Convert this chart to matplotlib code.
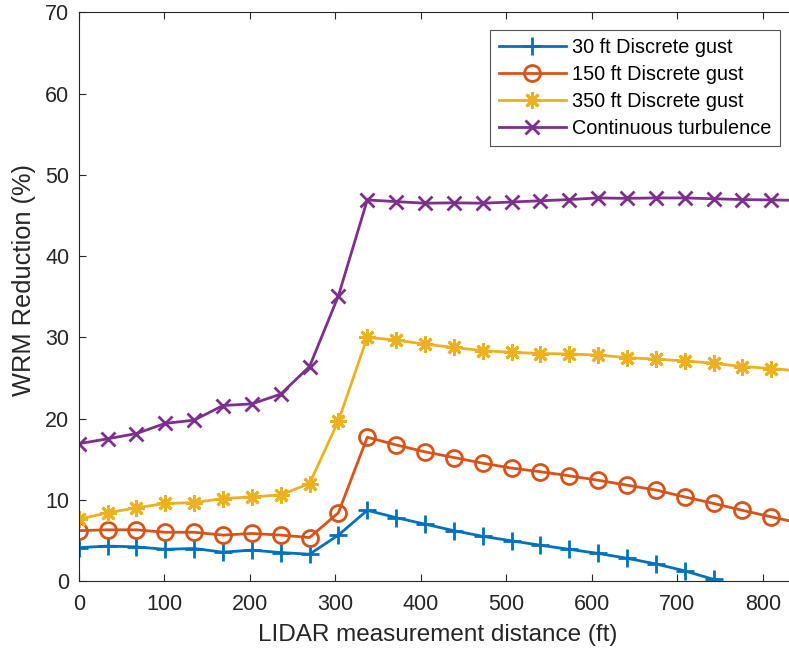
import matplotlib
matplotlib.use("Agg")
import matplotlib.pyplot as plt
import numpy as np

plt.rcParams['font.family'] = ['Liberation Sans', 'DejaVu Sans']

step = 33.75
x_all = [round(i * step, 2) for i in range(26)]

gust30 = [4.1, 4.3, 4.2, 3.9, 4.0, 3.55, 3.8, 3.5, 3.3, 5.65, 8.7,
          7.8, 7.0, 6.2, 5.5, 4.95, 4.4, 3.9, 3.4, 2.8, 2.1, 1.25, 0.2]
gust150 = [6.2, 6.3, 6.3, 6.0, 6.0, 5.65, 5.85, 5.65, 5.35, 8.4, 17.7,
           16.75, 15.9, 15.2, 14.5, 13.9, 13.45, 12.95, 12.4, 11.8, 11.2,
           10.35, 9.55, 8.7, 7.9, 7.1]
gust350 = [7.6, 8.4, 9.0, 9.55, 9.65, 10.15, 10.35, 10.6, 12.0, 19.7, 30.0,
           29.65, 29.15, 28.75, 28.35, 28.15, 28.0, 27.95, 27.8, 27.5, 27.3,
           27.1, 26.8, 26.4, 26.15, 25.85]
cont_turb = [16.9, 17.5, 18.15, 19.4, 19.8, 21.6, 21.8, 23.0, 26.4, 35.1, 46.9,
             46.7, 46.5, 46.55, 46.5, 46.65, 46.8, 46.95, 47.15, 47.1, 47.15,
             47.15, 47.05, 46.95, 46.9, 46.85]

labels = ["30 ft Discrete gust", "150 ft Discrete gust",
          "350 ft Discrete gust", "Continuous turbulence"]
colors = ["#0072BD", "#D95319", "#EDB120", "#7E2F8E"]
xticks = [0, 100, 200, 300, 400, 500, 600, 700, 800]
yticks = [0, 10, 20, 30, 40, 50, 60, 70]

W, H = 789, 653
fig = plt.figure(figsize=(W / 100, H / 100), dpi=100)
left, right, top, bottom = 78.7, 789, 12.3, 581
ax = fig.add_axes([left / W, (H - bottom) / H, (right - left) / W, (bottom - top) / H])

tc = "#262626"
lw = 2.0
series = [gust30, gust150, gust350, cont_turb]
markers = ['+', 'o', (8, 2, 0), 'x']
msizes = [13, 11.5, 12, 9.5]
for ys, lab, c, m, ms in zip(series, labels, colors, markers, msizes):
    xs = x_all[:len(ys)]
    ax.plot(xs, ys, color=c, lw=lw, marker=m, ms=ms, mew=lw,
            mfc='none' if m == 'o' else c, mec=c, label=lab)

ax.set_xlim(0, (right - left) / 0.855)
ax.set_ylim(0, 70)
ax.set_xticks(xticks)
ax.set_yticks(yticks)
ax.tick_params(direction='in', length=5, width=0.8, colors=tc, labelsize=15.5,
               top=True, right=False)
ax.tick_params(axis='x', pad=9)
ax.tick_params(axis='y', pad=6.8)
ax.spines['right'].set_visible(False)
for s in ['left', 'bottom', 'top']:
    ax.spines[s].set_color(tc)
    ax.spines[s].set_linewidth(0.8)

ax.set_xlabel("LIDAR measurement distance (ft)", fontsize=17.5, color=tc, labelpad=7)
ax.set_ylabel("WRM Reduction (%)", fontsize=18.3, color=tc, labelpad=6.5)
ax.xaxis.label.set_x(0.506)
ax.yaxis.label.set_y(0.529)

leg = ax.legend(loc='upper right', bbox_to_anchor=(0.987, 0.969), borderaxespad=0,
                fontsize=14.3, handlelength=3.4, handletextpad=0.3,
                labelspacing=0.39, frameon=True, fancybox=False, borderpad=0.42)
leg.get_frame().set_edgecolor('#262626')
leg.get_frame().set_linewidth(0.8)
for t in leg.get_texts():
    t.set_color('black')

fig.savefig("out.png", dpi=100)
